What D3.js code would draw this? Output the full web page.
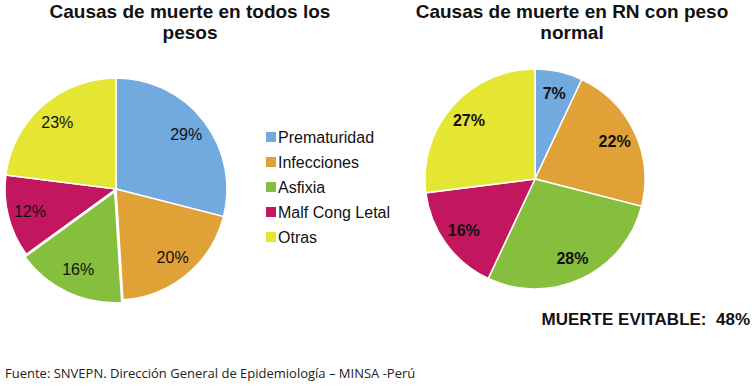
<!DOCTYPE html>
<html>
<head>
<meta charset="utf-8">
<script src="https://cdn.jsdelivr.net/npm/d3@7"></script>
<style>
  body { margin: 0; background: #fff; }
  svg { display: block; }
</style>
</head>
<body>
<svg id="chart" width="755" height="389"></svg>
<script>
// datos
const categories = ['Prematuridad', 'Infecciones', 'Asfixia', 'Malf Cong Letal', 'Otras'];
const colors = ['#72a9df', '#e0a236', '#86bf3e', '#c2175e', '#e5e534'];
const todosPesos = [29, 20, 16, 12, 23];
const pesoNormal = [7, 22, 28, 16, 27];

const svg = d3.select('#chart');
const font = 'Liberation Sans, Arial, sans-serif';

const pie = d3.pie().sort(null).value(d => d);

function drawPie(cx, cy, r, data, bold, explode) {
  const g = svg.append('g').attr('transform', `translate(${cx}, ${cy})`);
  const arc = d3.arc().innerRadius(0).outerRadius(r);
  const labelArc = d3.arc().innerRadius(r * 0.8).outerRadius(r * 0.8);
  const arcs = pie(data);

  g.selectAll('path')
    .data(arcs)
    .enter()
    .append('path')
    .attr('d', arc)
    .attr('fill', (d, i) => colors[i])
    .attr('stroke', '#fff')
    .attr('stroke-width', 1.5)
    .attr('transform', (d, i) => {
      if (explode !== i) return null;
      const a = (d.startAngle + d.endAngle) / 2;
      return `translate(${Math.sin(a) * 3}, ${-Math.cos(a) * 3})`;
    });

  g.selectAll('text')
    .data(arcs)
    .enter()
    .append('text')
    .attr('transform', d => `translate(${labelArc.centroid(d)})`)
    .attr('text-anchor', 'middle')
    .attr('dy', '0.35em')
    .attr('font-family', font)
    .attr('font-size', '16px')
    .attr('font-weight', bold ? 'bold' : 'normal')
    .attr('fill', '#111')
    .text(d => d.data + '%');
}

function title(x, lines) {
  const t = svg.append('text')
    .attr('x', x)
    .attr('y', 18)
    .attr('text-anchor', 'middle')
    .attr('font-family', font)
    .attr('font-size', '19px')
    .attr('font-weight', 'bold')
    .attr('fill', '#111');
  lines.forEach((l, i) => {
    t.append('tspan').attr('x', x).attr('dy', i ? 21 : 0).text(l);
  });
}

title(190, ['Causas de muerte en todos los', 'pesos']);
title(572, ['Causas de muerte en RN con peso', 'normal']);

drawPie(116, 189, 111, todosPesos, false, 2);
drawPie(535, 179, 110, pesoNormal, true, null);

// leyenda
const legend = svg.append('g').attr('transform', 'translate(266, 137)');
const row = legend.selectAll('g')
  .data(categories)
  .enter()
  .append('g')
  .attr('transform', (d, i) => `translate(0, ${i * 25})`);
row.append('rect')
  .attr('x', 0).attr('y', -5)
  .attr('width', 10).attr('height', 10)
  .attr('fill', (d, i) => colors[i]);
row.append('text')
  .attr('x', 12)
  .attr('dy', '0.36em')
  .attr('font-family', font)
  .attr('font-size', '16px')
  .attr('fill', '#111')
  .text(d => d);

svg.append('text')
  .attr('x', 750)
  .attr('y', 325)
  .attr('text-anchor', 'end')
  .attr('font-family', font)
  .attr('font-size', '17px')
  .attr('font-weight', 'bold')
  .attr('fill', '#111')
  .attr('xml:space', 'preserve')
  .text('MUERTE EVITABLE:  48%');

svg.append('text')
  .attr('x', 5)
  .attr('y', 378)
  .attr('font-family', 'Open Sans, sans-serif')
  .attr('font-size', '13px')
  .attr('fill', '#222')
  .text('Fuente: SNVEPN. Dirección General de Epidemiología – MINSA -Perú');
</script>
</body>
</html>
